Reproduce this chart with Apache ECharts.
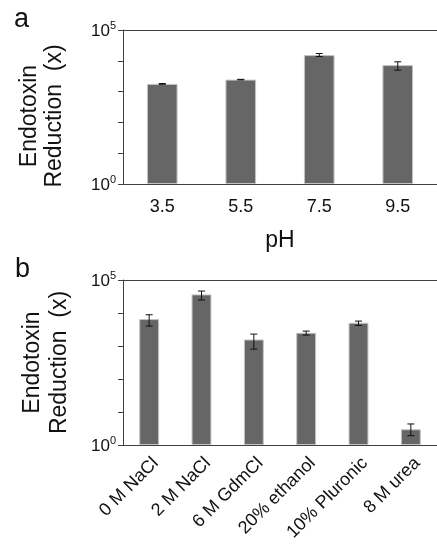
<!DOCTYPE html>
<html>
<head>
<meta charset="utf-8">
<script src="https://cdn.jsdelivr.net/npm/echarts@6/dist/echarts.min.js"></script>
<style>
html,body{margin:0;padding:0;background:#fff;}
#chart{width:437px;height:545px;}
</style>
</head>
<body>
<div id="chart"></div>
<script>
// Panel a data
var categoriesA = ['3.5', '5.5', '7.5', '9.5'];
var valuesA = [1780, 2450, 15300, 7240];
var errLowA = [1730, 2400, 13800, 4970];
var errHighA = [1830, 2500, 17270, 9270];

// Panel b data
var categoriesB = ['0 M NaCl', '2 M NaCl', '6 M GdmCl', '20% ethanol', '10% Pluronic', '8 M urea'];
var valuesB = [6550, 36600, 1574, 2512, 5055, 3.0];
var errLowB = [4010, 24700, 804, 2140, 4190, 1.92];
var errHighB = [8850, 46300, 2295, 2830, 5690, 4.34];

var yTickLabels = {1: '{b|10}{s|0}', 100000: '{b|10}{s|5}'};

var FONT = 'Liberation Sans, Arial, sans-serif';
var AXIS_COLOR = '#404040';
var TEXT_COLOR = '#111';

function errData(low, high) {
  return low.map(function (l, i) { return [i, l, high[i]]; });
}

function errRender(params, api) {
  var x = api.value(0);
  var lo = api.coord([x, api.value(1)]);
  var hi = api.coord([x, api.value(2)]);
  var hw = 3.5;
  var style = {stroke: '#111', lineWidth: 1};
  return {
    type: 'group',
    children: [
      {type: 'line', shape: {x1: lo[0], y1: lo[1], x2: hi[0], y2: hi[1]}, style: style},
      {type: 'line', shape: {x1: lo[0] - hw, y1: lo[1], x2: lo[0] + hw, y2: lo[1]}, style: style},
      {type: 'line', shape: {x1: hi[0] - hw, y1: hi[1], x2: hi[0] + hw, y2: hi[1]}, style: style}
    ]
  };
}

function yAxisCfg(gridIndex, gap, pad, lh) {
  return {
    type: 'log', logBase: 10, min: 1, max: 100000, gridIndex: gridIndex,
    name: 'Endotoxin\nReduction  (x)',
    nameLocation: 'middle', nameRotate: 90, nameGap: gap,
    nameTextStyle: {fontFamily: FONT, fontSize: 23, color: TEXT_COLOR, lineHeight: lh, padding: pad},
    axisLine: {show: true, lineStyle: {color: AXIS_COLOR, width: 1}},
    axisTick: {show: true, inside: false, length: 5, lineStyle: {color: AXIS_COLOR}},
    splitLine: {show: false},
    minorTick: {show: false},
    axisLabel: {
      margin: 7,
      formatter: function (v) { return yTickLabels[Math.round(v)] || ''; },
      rich: {
        b: {fontFamily: FONT, fontSize: 17, color: TEXT_COLOR, verticalAlign: 'bottom'},
        s: {fontFamily: FONT, fontSize: 11, color: TEXT_COLOR, verticalAlign: 'top', padding: [0, 0, 8, 0]}
      }
    }
  };
}

var chart = echarts.init(document.getElementById('chart'), null, {renderer: 'canvas'});

var option = {
  animation: false,
  backgroundColor: '#fff',
  grid: [
    {left: 123, right: -7, top: 30, height: 154, containLabel: false},
    {left: 123, right: -11, top: 280, height: 165, containLabel: false}
  ],
  graphic: [
    {type: 'text', left: 14, top: 6, style: {text: 'a', fontFamily: FONT, fontSize: 27, fill: TEXT_COLOR}},
    {type: 'text', left: 15, top: 256, style: {text: 'b', fontFamily: FONT, fontSize: 27, fill: TEXT_COLOR}}
  ],
  xAxis: [
    {
      type: 'category', data: categoriesA, gridIndex: 0,
      name: 'pH', nameLocation: 'middle', nameGap: 45,
      nameTextStyle: {fontFamily: FONT, fontSize: 23, color: TEXT_COLOR},
      axisLine: {lineStyle: {color: AXIS_COLOR}},
      axisTick: {length: 5, lineStyle: {color: AXIS_COLOR}},
      axisLabel: {margin: 14, fontFamily: FONT, fontSize: 18, color: TEXT_COLOR}
    },
    {
      type: 'category', data: categoriesB, gridIndex: 1,
      axisLine: {lineStyle: {color: AXIS_COLOR}},
      axisTick: {length: 5, lineStyle: {color: AXIS_COLOR}},
      axisLabel: {margin: 9, rotate: 45, interval: 0, fontFamily: FONT, fontSize: 18, color: TEXT_COLOR,
                  align: 'right', verticalAlign: 'top'}
    },
    {type: 'category', data: categoriesA, gridIndex: 0, position: 'top',
     axisLine: {lineStyle: {color: AXIS_COLOR}}, axisTick: {show: false}, axisLabel: {show: false}},
    {type: 'category', data: categoriesB, gridIndex: 1, position: 'top',
     axisLine: {lineStyle: {color: AXIS_COLOR}}, axisTick: {show: false}, axisLabel: {show: false}}
  ],
  yAxis: [yAxisCfg(0, 56, [0, 18, 0, 0], 25), yAxisCfg(1, 50, [0, 0, 0, 0], 27)],
  series: [
    {type: 'bar', xAxisIndex: 0, yAxisIndex: 0, data: valuesA, barWidth: '39%',
     itemStyle: {color: '#666666', borderColor: '#c4c4c4', borderWidth: 1}},
    {type: 'custom', xAxisIndex: 0, yAxisIndex: 0, data: errData(errLowA, errHighA), renderItem: errRender, z: 5},
    {type: 'bar', xAxisIndex: 1, yAxisIndex: 1, data: valuesB, barWidth: '38%',
     itemStyle: {color: '#666666', borderColor: '#c4c4c4', borderWidth: 1}},
    {type: 'custom', xAxisIndex: 1, yAxisIndex: 1, data: errData(errLowB, errHighB), renderItem: errRender, z: 5}
  ]
};
chart.setOption(option);
</script>
</body>
</html>
